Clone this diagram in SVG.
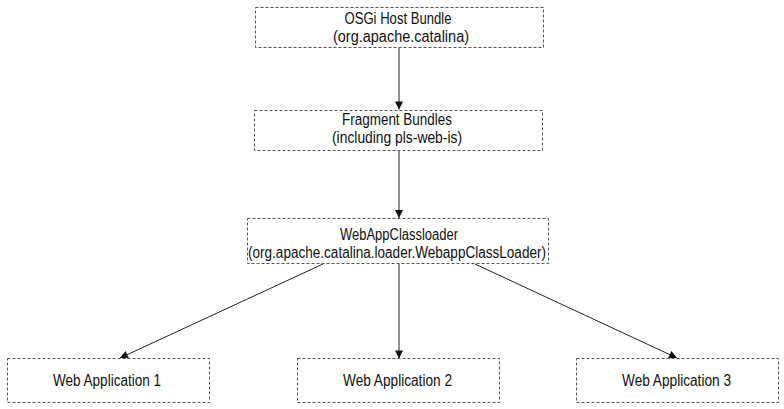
<svg xmlns="http://www.w3.org/2000/svg" width="784" height="409" viewBox="0 0 784 409">
<style>
.box{fill:#fff;stroke:#555;stroke-width:1;stroke-dasharray:3,2}
.t{font-family:"Liberation Sans",Arial,sans-serif;font-size:16px;fill:#111;text-anchor:middle}
.c{stroke:#222;stroke-width:1;fill:none;marker-end:url(#ah)}
</style>
<defs>
<marker id="ah" viewBox="0 0 10 10" refX="10" refY="5" markerWidth="10" markerHeight="8" markerUnits="userSpaceOnUse" orient="auto">
<path d="M0,0 L10,5 L0,10 z" fill="#111"/>
</marker>
</defs>
<rect width="784" height="409" fill="#fff"/>
<g id="connectors">
<line class="c" x1="399" y1="47.5" x2="399" y2="109.5"/>
<line class="c" x1="399" y1="151" x2="399" y2="218"/>
<line class="c" x1="399" y1="264" x2="399" y2="358.5"/>
<line class="c" x1="323" y1="264" x2="120" y2="358"/>
<line class="c" x1="475" y1="264" x2="677" y2="358"/>
</g>
<g id="osgi-host">
<rect class="box" x="255.5" y="7.5" width="288" height="40"/>
<text class="t" x="398" y="24" textLength="107" lengthAdjust="spacingAndGlyphs">OSGi Host Bundle</text>
<text class="t" x="401" y="42" textLength="136" lengthAdjust="spacingAndGlyphs">(org.apache.catalina)</text>
</g>
<g id="fragments">
<rect class="box" x="254.5" y="110.5" width="288" height="40"/>
<text class="t" x="397" y="125" textLength="110" lengthAdjust="spacingAndGlyphs">Fragment Bundles</text>
<text class="t" x="397" y="143" textLength="130" lengthAdjust="spacingAndGlyphs">(including pls-web-is)</text>
</g>
<g id="webappclassloader">
<rect class="box" x="247.5" y="218.5" width="301" height="45"/>
<text class="t" x="399" y="240" textLength="118" lengthAdjust="spacingAndGlyphs">WebAppClassloader</text>
<text class="t" x="397" y="258" textLength="298" lengthAdjust="spacingAndGlyphs">(org.apache.catalina.loader.WebappClassLoader)</text>
</g>
<g id="webapp1">
<rect class="box" x="7.5" y="358.5" width="202" height="44"/>
<text class="t" x="107" y="386" textLength="108" lengthAdjust="spacingAndGlyphs">Web Application 1</text>
</g>
<g id="webapp2">
<rect class="box" x="297.5" y="358.5" width="202" height="44"/>
<text class="t" x="397.5" y="386" textLength="109" lengthAdjust="spacingAndGlyphs">Web Application 2</text>
</g>
<g id="webapp3">
<rect class="box" x="576.5" y="358.5" width="202" height="44"/>
<text class="t" x="676.5" y="386" textLength="109" lengthAdjust="spacingAndGlyphs">Web Application 3</text>
</g>
</svg>
